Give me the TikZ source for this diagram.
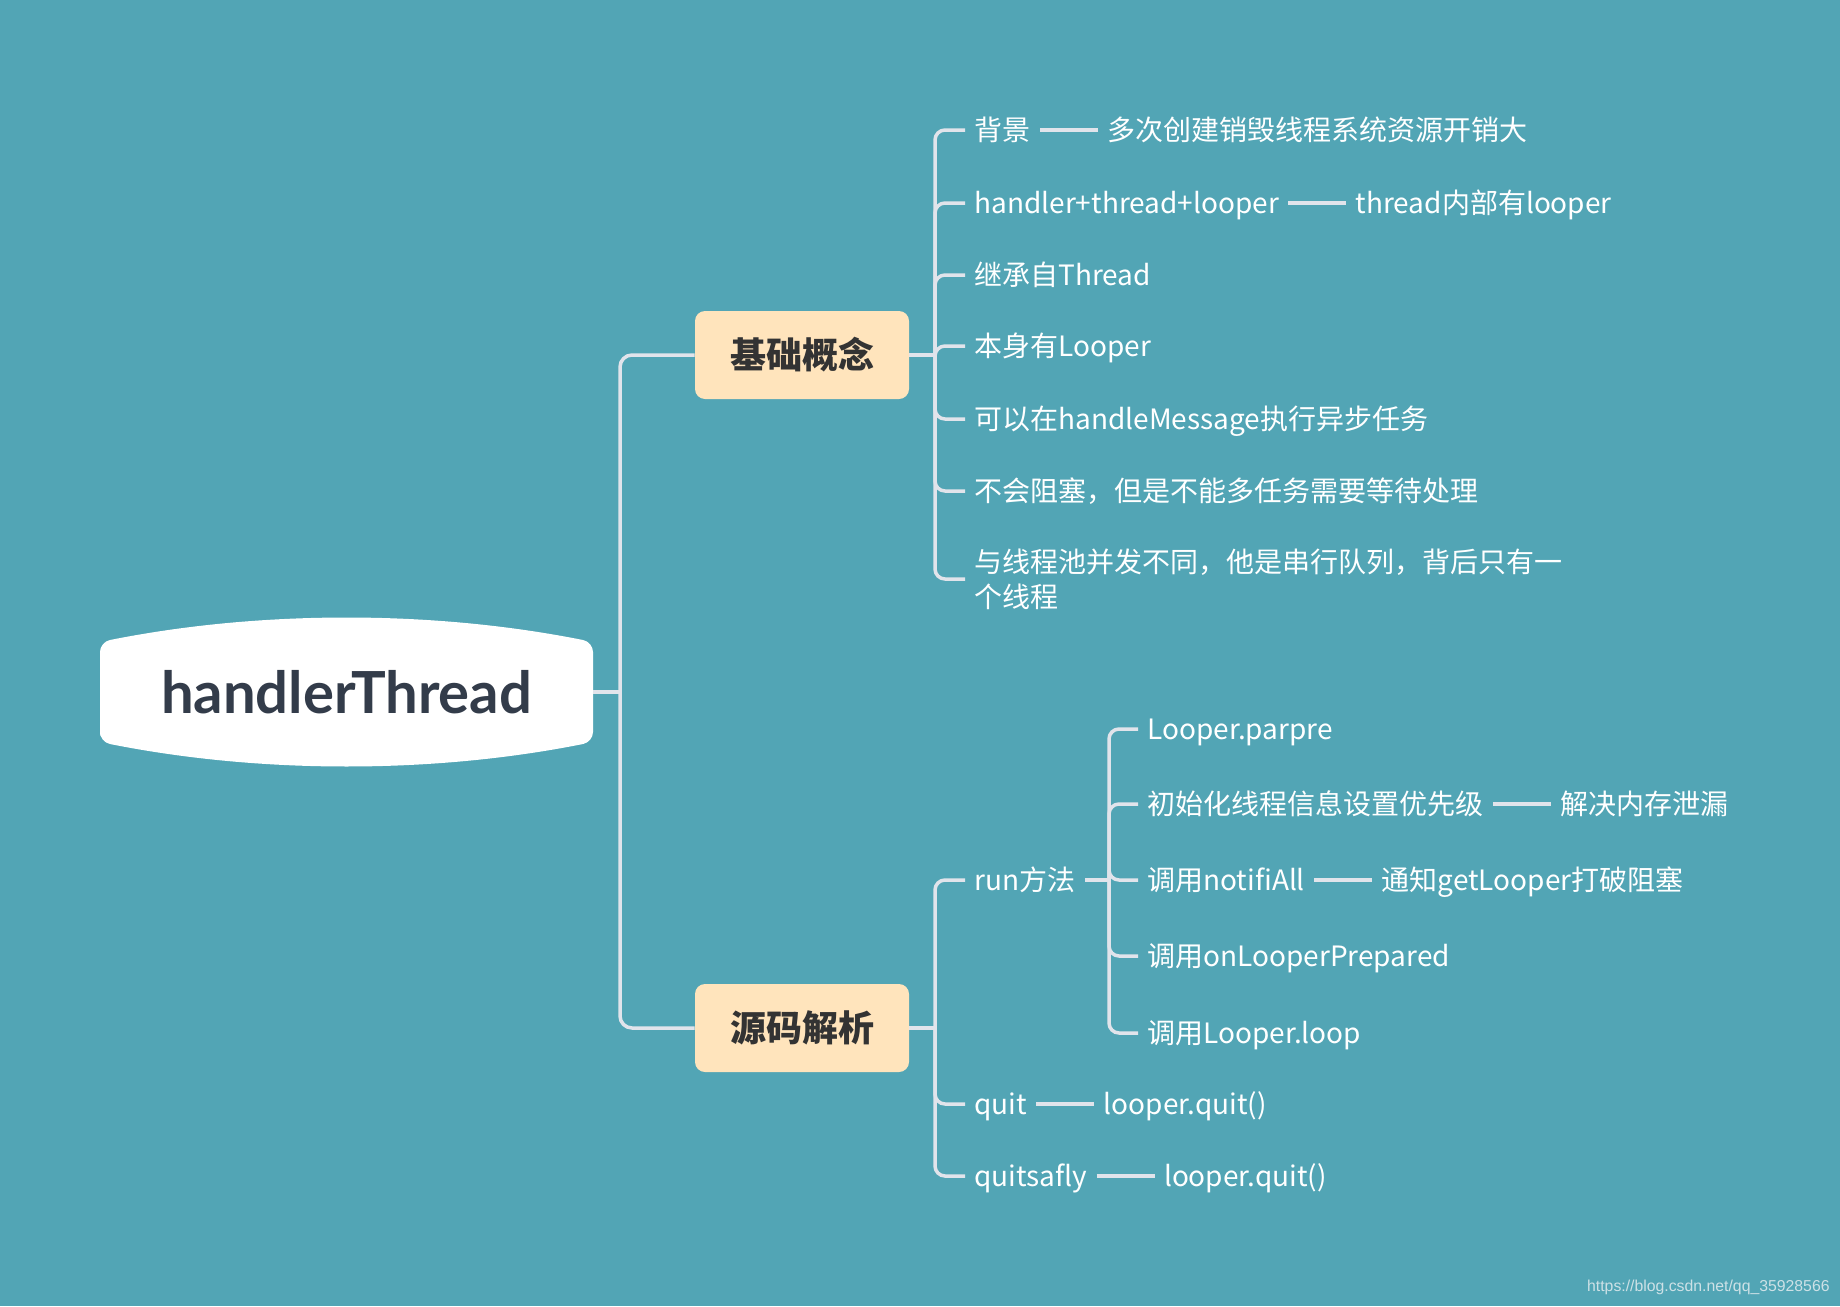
\documentclass[tikz,border=0pt]{standalone}
\usepackage{fontspec}
\setmainfont{Noto Sans CJK SC}
\newfontfamily\rootfont{Lato}
\newfontfamily\markfont{Liberation Sans}
\definecolor{mapbg}{RGB}{82,165,181}
\definecolor{maplink}{RGB}{225,228,235}
\definecolor{mapbox}{RGB}{255,228,188}
\definecolor{maptext}{RGB}{51,51,51}
\definecolor{rootink}{RGB}{51,60,74}
\definecolor{markgray}{RGB}{205,225,230}
\usetikzlibrary{positioning,calc}

\begin{document}
\begin{tikzpicture}[x=0.5pt, y=-0.5pt,
    link/.style={draw=maplink, line width=1.75pt, rounded corners=5pt},
    topic/.style={fill=mapbox, rounded corners=5pt, minimum width=107pt, minimum height=44pt, inner sep=0pt, text=maptext, font=\fontsize{18}{22}\selectfont\bfseries},
    leafbase/.style={anchor=west, text=white, inner xsep=4.5pt, inner ysep=0pt, font=\fontsize{14}{17.6}\selectfont},
    leaf/.style={leafbase, text height=11.5pt, text depth=1.5pt}]
        \fill[mapbg] (0,0) rectangle (1840,1306);
        \useasboundingbox (0,0) rectangle (1840,1306);

        \fill[white, rounded corners=5pt] (100,742) -- (100,642) .. controls (260,610) and (433,610) .. (593,642) -- (593,742) .. controls (433,774) and (260,774) .. (100,742) -- cycle;
        \node[minimum width=246.5pt, minimum height=50pt, inner sep=0pt, text=rootink, font=\rootfont\bfseries\fontsize{29}{34}\selectfont] (root) at (346.5,692) {handlerThread};

        \node[topic] (basics) at (802,355) {基础概念};
        \node[topic] (source) at (802,1028) {源码解析};

        \coordinate (trunk) at (620,692);
        \draw[link] (root.east) -- (trunk);
        \draw[link, rounded corners=6pt] (trunk) |- (basics.west);
        \draw[link, rounded corners=6pt] (trunk) |- (source.west);

        \node[leaf] (bg) at (965,130) {背景};
        \node[leaf, right=29pt of bg] (bgcost) {多次创建销毁线程系统资源开销大};
        \node[leaf] (mix) at (965,203) {handler+thread+looper};
        \node[leaf, right=29pt of mix] (mixin) {thread内部有looper};
        \node[leaf] (ext) at (965,275) {继承自Thread};
        \node[leaf] (own) at (965,346) {本身有Looper};
        \node[leaf] (async) at (965,419) {可以在handleMessage执行异步任务};
        \node[leaf] (block) at (965,491) {不会阻塞，但是不能多任务需要等待处理};
        \node[leafbase, align=left] (serial) at (965,579) {与线程池并发不同，他是串行队列，背后只有一\\个线程};

        \coordinate (j1) at (935,355);
        \draw[link] (basics.east) -- (j1);
        \foreach \n in {bg,mix,ext,own,async,block,serial}
            \draw[link] (j1) |- (\n.west);
        \draw[link] (bg.east) -- (bgcost.west);
        \draw[link] (mix.east) -- (mixin.west);

        \node[leaf] (run) at (965,880) {run方法};
        \node[leaf] (quit) at (965,1104) {quit};
        \node[leaf, right=29pt of quit] (quitcall) {looper.quit()};
        \node[leaf] (safe) at (965,1176) {quitsafly};
        \node[leaf, right=29pt of safe] (safecall) {looper.quit()};

        \coordinate (j2) at (935,1028);
        \draw[link] (source.east) -- (j2);
        \foreach \n in {run,quit,safe}
            \draw[link] (j2) |- (\n.west);
        \draw[link] (quit.east) -- (quitcall.west);
        \draw[link] (safe.east) -- (safecall.west);

        \node[leaf] (prep) at (1138,729) {Looper.parpre};
        \node[leaf] (prio) at (1138,804) {初始化线程信息设置优先级};
        \node[leaf, right=29pt of prio] (leak) {解决内存泄漏};
        \node[leaf] (notify) at (1138,880) {调用notifiAll};
        \node[leaf, right=29pt of notify] (wake) {通知getLooper打破阻塞};
        \node[leaf] (prepared) at (1138,956) {调用onLooperPrepared};
        \node[leaf] (loop) at (1138,1033) {调用Looper.loop};

        \coordinate (j3) at (1109,880);
        \draw[link] (run.east) -- (j3);
        \foreach \n in {prep,prio,notify,prepared,loop}
            \draw[link] (j3) |- (\n.west);
        \draw[link] (prio.east) -- (leak.west);
        \draw[link] (notify.east) -- (wake.west);

        \node[anchor=east, inner sep=0pt, text=markgray, font=\markfont\fontsize{7.9}{9}\selectfont] (mark) at (1830,1287) {https://blog.csdn.net/qq\_35928566};
      \end{tikzpicture}
\end{document}
